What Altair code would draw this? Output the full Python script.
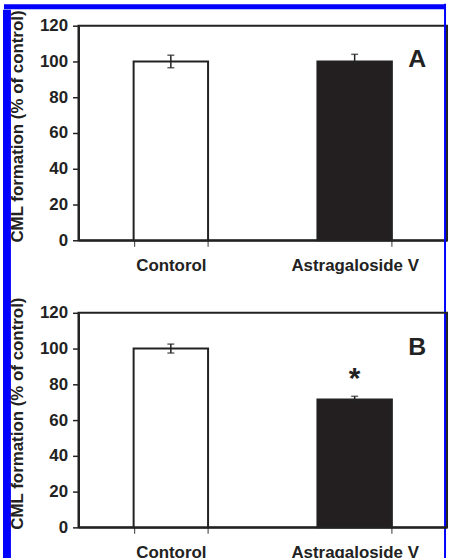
import altair as alt
import pandas as pd

# ---- data ----
categories = ["Contorol", "Astragaloside V"]
panel_letters = ["A", "B"]
means_a = [100, 100]
errs_a = [3.5, 4.0]
means_b = [100, 71.5]
errs_b = [2.5, 1.8]
sig_a = ["", ""]
sig_b = ["", "*"]
bar_fills = ["#ffffff", "#231f20"]
y_ticks = [0, 20, 40, 60, 80, 100, 120]
y_title = "CML formation (% of control)"

FONT = "Liberation Sans"
INK = "#222222"
BLUE = "#0000fe"
W, H = 371, 216
# page offset of the first plot area (used only for the decorative blue frame)
OX, OY = 80, 24


def panel(letter, means, errs, sig, with_frame=False):
    df = pd.DataFrame({
        "cat": categories,
        "mean": means,
        "lo": [m - e for m, e in zip(means, errs)],
        "hi": [m + e for m, e in zip(means, errs)],
        "fill": bar_fills,
        "sig": sig,
    })
    x_enc = alt.X(
        "cat:N", sort=categories, title=None,
        scale=alt.Scale(paddingInner=0.595, paddingOuter=0.3),
        axis=alt.Axis(labelAngle=0, tickBand="extent", domainColor=INK, domainWidth=2,
                      tickColor="#555555", tickWidth=1.2, tickSize=6,
                      labelFont=FONT, labelFontSize=17, labelFontWeight="bold",
                      labelColor=INK, labelPadding=11, grid=False),
    )
    y_scale = alt.Scale(domain=[0, 120], nice=False)
    y_axis = alt.Axis(values=y_ticks, grid=False, domainColor=INK, domainWidth=2,
                      tickColor=INK, tickWidth=1.5, tickSize=6,
                      labelFont=FONT, labelFontSize=17, labelFontWeight="bold",
                      labelColor=INK, labelPadding=5,
                      titleFont=FONT, titleFontSize=17, titleFontWeight="bold",
                      titleColor=INK, titleX=-56, titleY=101, titleBaseline="alphabetic")

    def Y(field):
        return alt.Y(field, scale=y_scale, axis=y_axis, title=y_title)

    base = alt.Chart(df)
    bars = base.mark_bar(stroke=INK, strokeWidth=2).encode(
        x=x_enc, y=Y("mean:Q"), fill=alt.Fill("fill:N", scale=None))
    err = base.mark_rule(color=INK, strokeWidth=1.5).encode(
        x=x_enc, y=Y("lo:Q"), y2="hi:Q")
    cap_hi = base.mark_tick(color=INK, thickness=1.5, size=7).encode(x=x_enc, y=Y("hi:Q"))
    cap_lo = base.mark_tick(color=INK, thickness=1.5, size=7).encode(x=x_enc, y=Y("lo:Q"))
    stars = base.mark_text(font=FONT, fontSize=30, fontWeight="bold", color=INK,
                           baseline="alphabetic", dy=-8).encode(
        x=x_enc, y=Y("hi:Q"), text="sig:N")
    lab = alt.Chart(pd.DataFrame({"label": [letter]})).mark_text(
        font=FONT, fontSize=25, fontWeight="bold", color=INK,
        baseline="alphabetic", align="center").encode(
        x=alt.value(341), y=alt.value(42), text="label:N")

    layers = [bars, err, cap_hi, cap_lo, stars, lab]
    if with_frame:
        fd = pd.DataFrame({"k": [0]})
        # Vega expands rule bounds by the full stroke width; positions chosen so
        # the outermost bound lands on the page edge.
        left = alt.Chart(fd).mark_rule(color=BLUE, strokeWidth=8).encode(
            x=alt.value(8 - OX), y=alt.value(8 - OY), y2=alt.value(560 - OY))
        top = alt.Chart(fd).mark_rule(color=BLUE, strokeWidth=5).encode(
            y=alt.value(5 - OY), x=alt.value(5 - OX), x2=alt.value(450 - OX))
        right = alt.Chart(fd).mark_rule(color=BLUE, strokeWidth=2).encode(
            x=alt.value(449 - OX), y=alt.value(2 - OY), y2=alt.value(560 - OY))
        layers += [left, top, right]
    return alt.layer(*layers).properties(width=W, height=H)


chart = alt.vconcat(
    panel(panel_letters[0], means_a, errs_a, sig_a, with_frame=True),
    panel(panel_letters[1], means_b, errs_b, sig_b),
    spacing=73,
    bounds="flush",
).properties(
    padding={"left": 0, "top": 0, "right": 0, "bottom": 0},
    background="#ffffff",
).configure_view(stroke=INK, strokeWidth=2)

chart.save("out.html", embed_options={"renderer": "svg", "actions": False})
